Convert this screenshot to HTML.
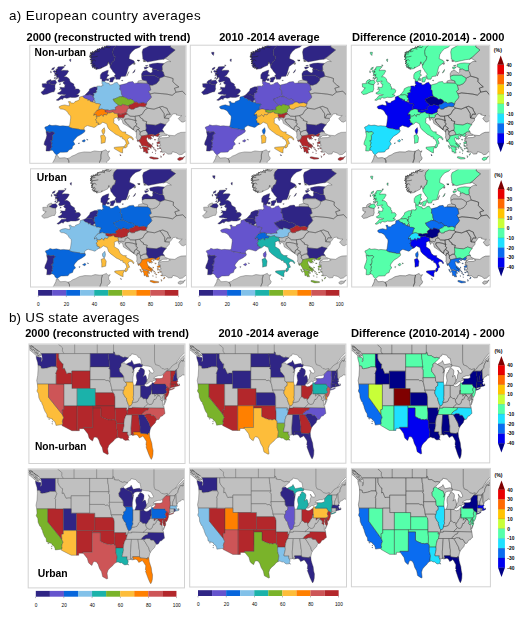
<!DOCTYPE html><html><head><meta charset="utf-8"><title>Figure</title><style>html,body{margin:0;padding:0;background:#fff}svg{display:block}text{font-family:"Liberation Sans",sans-serif;fill:#000}.b{font-weight:700}.m use,.m path{stroke:#404040;stroke-width:.36;stroke-linejoin:round}.m use.fj{stroke:#222;stroke-width:.5}.d use,.d path{stroke:#262626;stroke-width:.42}</style></head><body>
<svg width="520" height="619" viewBox="0 0 520 619">
<defs><path id="ePT" d="M15.8,86.3 17.9,85.6 18.2,86.6 21.1,86.2 23,86 24.3,87.4 22,89.7 22.2,92.4 21.7,94.8 20.1,95 21.7,97.1 20.8,99.8 21.7,100.6 20.1,103.2 20.5,104.5 18.9,105.3 15.7,105.2 16,101.8 16,99.8 14.7,99.6 13.7,98.5 14.2,96.1 15.7,92.8 16.5,89.7Z"/><path id="eES" d="M15.8,86.3 15.7,84.2 14.4,82.3 14.7,81.3 17.6,80.3 18.9,79 21.7,79.8 25.6,79.4 29.7,80.3 32.6,80 34.8,80.2 38.3,80.5 39.6,81.7 41.9,82.5 46.3,83.1 48.7,83.5 49.7,84 54.2,84.1 54.7,84.6 54.3,86.2 51.1,88.5 47,90.7 44.1,94 43,95.7 44.7,98.5 42.5,100.2 41.7,103 38.7,104.1 37.1,106.3 32.9,106.5 30,106.5 27,108.6 26.2,109.2 24,107.2 23.6,106.1 22,104.5 20.5,104.5 20.1,103.2 21.7,100.6 20.8,99.8 21.7,97.1 20.1,95 21.7,94.8 22.2,92.4 22,89.7 24.3,87.4 23,86 21.1,86.2 18.2,86.6 17.9,85.6ZM51.6,95.2 54,93.8 55.1,94.8 54,96.3 52.7,95.9ZM56.2,93.4 57.8,94 57.2,94.4ZM47.9,97.5 49.2,97.1 48.7,98.1Z"/><path id="eFR" d="M38.3,80.5 39.3,79.8 39.9,76 40.4,72.2 40.3,70.2 38.3,68.2 37.2,66.3 36.1,65.1 35.2,64.4 32.9,63.4 30.2,63.2 28.9,62 28.9,60.8 31.3,59.7 34.5,59.1 37.7,59.9 39.1,59.9 39,57.7 38,55.8 40.1,55.8 40.6,57.1 43.5,57.3 44.4,56.5 44.7,55.8 47.6,54.8 49.1,53.8 49.2,51.3 52.2,50.4 53.4,51.9 54.6,52.6 57.4,53.5 57.4,54.7 59.4,54 59.6,55.4 62.6,56.4 64.4,56.7 65.7,57.8 67.7,57.8 70.3,58.6 69,60.5 68.4,62.4 68.4,64 66.5,64.4 66.1,65.1 63.6,68.1 63.7,69.6 63.2,69.4 65.8,68.5 66,70.8 66.8,72.3 65.3,73.7 66.5,75.5 66.1,76.6 68.7,77.4 68.2,78.9 67.4,79.2 66.1,80.1 65.2,81.1 63.6,81.7 61.2,80.9 59.4,80.5 57.2,79.8 55.3,80.7 53.8,81.9 53.8,83.7 54.2,84.1 49.7,84 48.7,83.5 46.3,83.1 41.9,82.5 39.6,81.7Z"/><path id="eFRC" d="M71.6,84.2 74,81.9 74.6,85 74.1,87.4 73.5,88.3 72.2,87.6 71.6,85.8Z"/><path id="eBE" d="M52.2,50.4 54.9,49.3 57.7,49.3 59.8,48.9 62.8,50.1 62.3,51.5 63.4,51.8 64.4,53.2 63.7,54 62.5,55.4 62.6,56.4 59.6,55.4 59.4,54 57.4,54.7 57.4,53.5 54.6,52.6 53.4,51.9Z"/><path id="eLU" d="M62.5,55.4 63.7,54 64.9,55.4 64.4,56.7 62.6,56.4Z"/><path id="eNL" d="M54.9,49.3 55.9,48 57.2,46.8 58.8,44.9 59.3,43.1 61.4,42.1 63.9,41.1 66.1,41.1 67.1,41.9 66.6,44.3 65.5,44.9 66.6,45.8 65.8,47 63.1,47.5 63.9,49.1 63.1,50.5 63.4,51.8 62.3,51.5 62.8,50.1 59.8,48.9 57.7,49.3Z"/><path id="eDE" d="M67.1,41.9 66.5,40.4 69.7,40.2 71.3,40.8 71.6,39.4 72.9,39.4 71.7,37.8 71.6,35.5 74.3,35.8 76.1,37 78.9,37.5 79.2,39 80.8,39 82.8,38.4 84,37.2 86.9,36.5 88.2,38.6 89.6,39.3 89.8,41.7 89.3,43.5 90.9,44.7 91.2,48.4 92,49.5 91.5,51.2 89.8,50.7 87.2,51.9 84,53.2 82.8,53.4 84,55.8 85.6,57.3 88.3,59.4 87.1,60.3 84.8,61.8 85.6,64 83.1,64 79.2,64.7 77.5,64.2 74.8,64.2 72.9,63.6 71.4,63.2 68.4,64 68.4,62.4 69,60.5 70.3,58.6 67.7,57.8 65.7,57.8 64.4,56.7 64.9,55.4 63.7,54 64.4,53.2 63.4,51.8 63.1,50.5 63.9,49.1 63.1,47.5 65.8,47 66.6,45.8 65.5,44.9 66.6,44.3Z"/><path id="eDK" d="M71.7,35.5 71.6,33.3 70,33 70.1,29.1 71.6,26.9 75.9,25 78,24.4 77.7,26.5 77,28.5 78.9,29.4 77,30.6 75.7,34.1 74.3,35.8ZM75.4,33.1 78.3,33 78.6,34.7 76.4,34.9ZM79.2,32.4 81.8,31.4 84.4,31 84.4,32.8 83.1,34.3 82.4,36.3 79.2,36.3 79.9,34.3ZM91.1,34.7 92.5,34.5 92.3,35.1ZM20.8,6.6 23.3,6.6 22.7,9.8 21.1,8.2Z"/><path id="ePL" d="M89.6,39.3 95.9,37.8 98.4,36.3 102.6,35.8 103.9,37.6 106.7,37.2 107.4,37.3 117,37.6 119.2,39.2 120.5,44.1 118.2,45.6 119.7,48.2 121.1,51.3 119.8,53 116.5,56.4 116.2,58.2 112.8,56.9 108.3,57.7 106.4,56.4 104.3,56.5 103.4,55 100.7,53.4 98.1,53.8 95.9,52.3 92,50.7 91.5,51.2 92,49.5 91.2,48.4 90.9,44.7 89.3,43.5 89.8,41.7Z"/><path id="eCZ" d="M82.8,53.4 84,53.2 87.2,51.9 89.8,50.7 91.5,51.2 92,50.7 95.9,52.3 98.1,53.8 100.7,53.4 103.4,55 104.3,56.5 101.9,58.3 99.1,59.1 98.3,60.1 95.5,59.5 92,58.5 91.1,60.1 88.3,59.4 85.6,57.3 84,55.8Z"/><path id="eSK" d="M98.3,60.1 99.1,59.1 101.9,58.3 104.3,56.5 106.4,56.4 108.3,57.7 112.8,56.9 116.2,58.2 114.9,60.8 113.4,61 109.6,60.5 106.7,61.6 104.2,62.2 103.9,63.2 101,63.4 98.9,62.4Z"/><path id="eAT" d="M74.8,64.2 77.5,64.2 79.2,64.7 83.1,64 85.6,64 84.8,61.8 87.1,60.3 88.3,59.4 91.1,60.1 92,58.5 95.5,59.5 98.3,60.1 98.9,62.4 96.8,63.6 96.5,66.3 95.5,66.9 94.1,67.5 90.6,68.6 87.9,68.2 83.7,67.5 82.9,66.1 79.2,67.2 77.5,66.8 74.8,66.1Z"/><path id="eCH" d="M63.2,69.4 63.7,69.6 63.6,68.1 66.1,65.1 66.5,64.4 68.4,64 71.4,63.2 72.9,63.6 74.8,64.2 74.8,66.1 77.5,66.8 77.5,68.1 76.2,69.2 73.8,68.6 72.9,70.9 71.1,69 69.2,70.5 66.6,70.6 66,70.8 65.8,68.5Z"/><path id="eSI" d="M87.9,68.2 90.6,68.6 94.1,67.5 95.5,66.9 97,68.2 94.1,69.4 94.1,70.8 93,72.3 90.8,71.6 87.6,72.3 87.9,71.8 87.6,70.2 86.9,69Z"/><path id="eIT" d="M68.2,78.9 68.7,77.4 66.1,76.6 66.5,75.5 65.3,73.7 66.8,72.3 66,70.8 66.6,70.6 69.2,70.5 71.1,69 72.9,70.9 73.8,68.6 76.2,69.2 77.5,68.1 77.5,66.8 79.2,67.2 82.9,66.1 83.7,67.5 87.9,68.2 86.9,69 87.6,70.2 87.9,71.8 86,71.6 83.4,72.9 83.7,74.7 83.4,77.2 87.6,79.8 89.5,84 92.3,86.1 95.7,86.2 94.9,87.6 98.4,89.5 101.6,91.1 103.2,93.2 102.7,94.4 101.3,92.4 99.1,91.8 97.1,93.6 98.9,97.7 96.8,98.9 97,100.4 95.4,102.2 94.1,102.2 94.1,100.8 94.7,99.1 95.9,97.9 95.4,95.7 94.1,93.6 92,92.8 91.9,91.1 89.8,91.3 89.2,90.3 85.6,88.7 83.1,86.8 79.6,84.2 77.7,82.1 77,80 76.4,78 75.6,77.8 72.5,76.4 70,78.4ZM83.9,101.6 86.6,101.2 93.8,100.8 92.3,103.9 92.3,107.2 90.1,106.5 83.9,102.8ZM70.3,89.9 73.5,88.7 75.4,91.7 74.8,96.7 73,97.1 70.9,97.7 70.9,94Z"/><path id="eGB" d="M25.9,54.3 28.1,52.8 29.6,51.1 30.7,49.9 34.5,49.8 35.5,48.8 33.9,48.9 31.6,48.4 30.4,48.6 27.8,48.2 27.2,47.2 29.1,46.4 31,44.9 31,43.3 28.9,43.7 30.4,42.3 29.4,41.3 32,41.7 34.2,41.7 34.5,40 35,38.6 33.9,38.6 32.6,37 34.4,35.3 32.6,35.6 30,36.3 28.6,36.5 27.6,35.1 28.1,33.9 29.2,33.3 28.3,32.7 28.4,31.6 27.2,31.8 27.2,32.8 25.6,32.9 25.7,33.9 25.3,32.9 26.7,32.2 26.2,31.2 26.1,30.3 26.5,29.4 25.2,29.3 24.3,28.5 24.6,27.3 25.9,26.9 25.1,26 25.6,25 25.5,23.8 26.9,23.4 27.2,22.4 27.3,21.5 28.1,21 33.2,20.8 34.4,21 31.6,23.6 31,25 33.2,24.5 37.7,24.6 38.4,25.4 37.4,26.9 36.1,28.9 35.2,29.8 33.6,31.1 35.8,31 37.7,32 39,33.1 39.6,35.3 40.4,36.5 42.8,37.8 43.8,38.6 43.5,40.2 44.4,40.6 45.2,42.5 44.3,43.5 45.7,43.1 48.3,43.2 49.7,44.9 49.2,46.6 48.1,47.6 47,48.6 46,48.9 48.6,49.3 48.6,50.2 47.1,51.1 44.9,51.7 41.5,51.7 39.9,51.5 37.7,52.3 36.3,52.5 34.5,51.9 32.9,52.5 32.4,53.8 30.8,53.2 28.1,54.6 27.5,54.8ZM20.9,34.9 24.9,34.3 26.5,36.7 24.8,38.9 23,38.8 20.8,38.4 18.1,37.2 20,36.1ZM24.3,21.4 21.7,22.6 21.4,24.2 23.6,23.4ZM22.7,25.4 24.3,24.6 25.9,26.3 24,26.9ZM20.5,25 21.1,26.9 20.3,26.9ZM24,30 25.9,29.2 24.9,28.9ZM23.6,32.4 25.2,31.2 24.6,32.8ZM33.6,19.5 35.2,19.3 34.8,20.3ZM39.3,13.7 40.6,13.3 40.3,16 39.3,14.8ZM28.9,38.6 30,37.6 30.2,38.6Z"/><path id="eIE" d="M24.8,38.9 24.6,41.5 24.9,43.1 23.8,46 21.7,46.2 18.5,47.4 16.9,48.2 12.8,48.9 11.5,47.6 10.7,46.4 13.1,44.7 14.1,42.9 15.3,42.3 12.1,41.3 11.8,38 16.9,37.8 16,36.5 17.3,34.9 20.5,33.6 20.9,34.9 20,36.1 18.1,37.2 20.8,38.4 23,38.8Z"/><path id="eNO" d="M79.6,19.1 78,16 77,19.5 72.9,21.4 69.7,23 66.6,23.4 65.5,23.4 65.5,21.8 63.9,22.6 64,20.9 62.3,21.8 62,20.7 61.4,20 62.3,19 61.7,18.3 60.3,17.8 62,16.6 60.4,16.1 62.3,14.9 60.7,14.4 59.6,13.7 61.5,12.4 60.1,11.7 59.1,10.9 61.2,10.1 59.4,9.4 61.2,8.6 60.1,7.8 60.4,6.5 62.2,7.5 62.1,5.6 63.9,6.7 64.2,5.5 65,4.6 66.6,5.3 66.7,3.3 68.1,3.5 68.9,2.6 70.3,3.1 71.3,2.3 72,1.1 73.6,2.4 74.1,0.6 75.4,1.2 76,-0.3 77.7,-0 77.3,-1.3 79.8,-0.9 79.2,-2.3 88.5,-2.3 83.4,2.7 82.4,5.9 83.1,10.1 85,10.9 84,14.8 81.8,16.4 80.5,19.5Z"/><path id="eSE" d="M79.6,19.1 80.5,19.5 81.8,16.4 84,14.8 85,10.9 83.1,10.1 82.4,5.9 83.4,2.7 88.5,-2.3 112.8,-2.3 110.9,-0 109,1.6 104.8,3.1 101.6,5.9 99.4,9 98.7,12.9 103.2,14.8 104.5,16.4 101.9,18.3 98.4,20.7 97.5,23.8 96.5,27.3 95.2,30.4 90.8,30.8 89.5,33.5 85.6,33.5 85,31.2 84,30 85.3,28.5 82.4,25.4 82.1,24.6 79.9,21.8ZM102.3,27.3 104.8,23.8 104.2,26.1ZM96.5,30.4 98.7,25.9 97.5,28.1Z"/><path id="eFI" d="M122.4,-2.3 119.2,-0 116,1.6 112.8,3.1 111.8,6.2 112.2,9.4 112.5,12.1 112.5,13.3 114.4,14.4 117.3,16.2 123.7,15 128.8,14 132.9,13.5 136.8,10.9 140,8.2 144.8,4.3 140,1.2 140.6,-2.3ZM106.7,14.4 109,14.2 108.3,15.4Z"/><path id="eEE" d="M118.9,18.7 123,17.6 127.2,17.2 133.6,17.7 131.7,20.3 132,24 131.5,25.2 128.8,25.2 124.9,23.4 121.9,23.9 122.4,22.2 119.2,21.1ZM113.8,21.4 118.2,21.3 116,23 114.4,23.4ZM115,19.9 117.6,19.5 116.6,20.5Z"/><path id="eLV" d="M111.4,30.8 111.2,28.1 112.8,25.5 116.3,24.4 118.2,26.1 120.5,27.3 122.1,26.3 121.9,23.9 124.9,23.4 128.8,25.2 131.5,25.2 132.9,26.1 134.2,30.4 129.1,32.4 124,29.6 114.4,29.6Z"/><path id="eLT" d="M111.4,30.8 114.4,29.6 124,29.6 129.1,32.4 128.8,34.7 126.2,37.8 122.1,39.4 119.2,39.2 117,37.6 116.6,35.3 112.2,34.1 111.4,32.4Z"/><path id="eBG" d="M115.7,78 117.3,78.6 125.6,79.4 130.4,77.5 135.5,79 133.6,81.1 132,83.8 133.6,86 130.4,86 128.1,87.6 124.9,89.5 121.7,88.5 117.6,89.1 117.4,87.4 115.5,84.6 116,82.3 115.7,80.3Z"/><path id="eGR" d="M108,94.8 110.2,93.2 111.2,90.3 117.4,89.1 121.7,88.5 124.9,89.5 128.1,87.6 129.1,88.5 128.1,89.9 127.3,90.7 124,89.9 122.1,89.9 120.1,90.7 122.1,93 120.5,92.4 120.6,93.8 118.9,92.6 118.7,93.8 117.3,91.5 116.3,92.4 116.3,93.6 117.3,96.3 118.6,96.9 117.6,97.9 119.5,99.5 120.9,100.6 120.9,102.8 119.2,101.4 117.6,101.8 118.2,103.3 119.2,103.5 118.1,104.1 116.8,103.2 117.9,107.4 116,107.1 115.8,107.6 114.9,105.5 114.1,106.3 113.3,106.1 113.1,103.3 111.7,102 112.5,100.6 117.3,101.6 117.3,101 113.8,100 111.5,100.2 110.4,97.7 108.6,95.2ZM117.6,97.7 118.9,97.5 121.4,99.1 122.5,101.4 121.1,100.6 119.2,99.3ZM119.4,111.1 121.1,111 124.3,111.7 126.4,111.9 128.1,112.3 127.8,113.1 123.2,113.4 119.4,112.1ZM132.8,108.6 134.2,107.6 133.9,108.8 132.9,109.6ZM126.4,96.8 129.2,95.7 129.4,97.7 126.8,98ZM126.5,99 127.9,99.3 127.2,101ZM128.8,102.3 130.7,102.3 129.7,102.9ZM130,105.6 131.6,105.9 130.3,106.4ZM124.9,104.6 126.1,104.9 125.4,105.7ZM122.9,101.4 124,102 123.3,102.8ZM123.9,93.7 125.5,93.7 124.8,94.6ZM122.2,90.6 123.6,90.8 122.9,91.4ZM106.6,94.1 108,94.7 107.8,96.3ZM109,99.8 110.7,100.6 109.7,101.5ZM109.9,101.8 111.3,102.4 110.6,102.9ZM130.4,109.9 131.1,110.7 130.7,111.9ZM121.8,106.2 122.7,106.5 122,106.8ZM125,107.4 125.7,107.6 125.2,107.9ZM127,102.6 128.6,102.9 127.4,103.5ZM122.1,97.5 123,98.1 122.3,98.7ZM124.4,103 125.1,103.6 124.6,103.9ZM123.6,103.7 124.1,103.5 123.8,104Z"/><path id="eCY" d="M147.3,112.9 149.4,111.5 152.4,111.7 154.7,110.4 152.6,112.9 152.9,113.2 149.5,114.8 147.6,114.1Z"/><path id="eMT" d="M89.5,108.8 90.8,109.4 90.3,110.2Z"/><path id="eGRAY" d="M132.9,13.5 135.5,12.9 139,14.8 140.6,15.8 136.8,15.8 133.6,17.7 131.7,20.3 132,24 131.5,25.2 132.9,26.1 134.2,30.4 140,31.8 142.8,32.8 142.5,35.9 145.7,39 148.6,41.1 144.1,42.5 145.7,46.4 152.1,45.4 157.2,50.7 157.5,53 162.3,53 162.3,-2.3 140.6,-2.3 140,1.2 144.8,4.3 140,8.2 136.8,10.9ZM107.4,37.3 107.7,35.3 112.2,34.1 116.6,35.3 117,37.6ZM119.2,39.2 122.1,39.4 126.2,37.8 128.8,34.7 129.1,32.4 134.2,30.4 140,31.8 142.8,32.8 142.5,35.9 145.7,39 148.6,41.1 144.1,42.5 145.7,46.4 141.9,49.5 136.8,48.4 131,47.8 124,47.2 119.7,48.2 118.2,45.6 120.5,44.1ZM119.7,48.2 124,47.2 131,47.8 136.8,48.4 141.9,49.5 145.7,46.4 152.1,45.4 157.2,50.7 157.5,53 162.3,53 162.3,67.5 158.8,67.7 156.6,69 155.3,70.2 156.3,71.8 159.1,72.7 157.2,74.1 152.7,76.4 150.8,75.9 148,72.7 151.5,69.8 148.9,69.8 145.7,69 146.4,68.2 144.8,67.9 142.4,68.2 140.6,70.8 138.8,72.7 134.2,72.3 136.6,68.4 140,68.6 137.4,64.5 136.8,62.6 134.2,61.6 132,60.6 129.1,61.4 123.7,63.4 117.3,62.4 114.9,60.8 116.2,58.2 116.5,56.4 119.8,53 121.1,51.3ZM129.1,61.4 132,60.6 134.2,61.6 136.8,62.6 137.4,64.5 140,68.6 136.6,68.4 134.2,72.3 133.9,70.2 133.9,67.9 131.3,64ZM108.8,69.8 111.8,68.6 114.4,64.4 117.3,62.4 123.7,63.4 129.1,61.4 131.3,64 133.9,67.9 133.9,70.2 134.2,72.3 138.8,72.7 138.7,74.7 135.6,78 135.5,79 130.4,77.5 125.6,79.4 117.3,78.6 115.7,78 116.5,75.9 112.5,74.7 112.8,73.5 110.4,72.2ZM95.5,66.9 96.5,66.3 96.8,63.6 98.9,62.4 101,63.4 103.9,63.2 104.2,62.2 106.7,61.6 109.6,60.5 113.4,61 114.9,60.8 117.3,62.4 114.4,64.4 111.8,68.6 108.8,69.8 104.8,70.4 104.2,70.6 99.7,70.4 97,68.2ZM87.6,72.3 90.8,71.6 93,72.3 94.1,70.8 94.1,69.4 97,68.2 99.7,70.4 104.2,70.6 104.8,70.4 105.1,74.1 104.8,74.7 101.6,73.7 98.1,73.1 94.6,73.3 94.4,74.9 95.9,77.2 99.1,80 100.5,81.9 103.1,83.7 103.2,84.2 100.3,82.3 96.8,80 92.7,77.6 91.7,73.9 89.8,72.9 88.5,74.9 87.2,72.3ZM94.6,73.3 98.1,73.1 101.6,73.7 104.8,74.7 105.9,74.5 105.1,76.8 106.7,78 105.5,80 103.9,80.9 103.1,83.7 100.5,81.9 99.1,80 95.9,77.2 94.4,74.9ZM104.8,70.4 108.8,69.8 110.4,72.2 112.8,73.5 112.5,74.7 116.5,75.9 115.7,78 115.7,80.3 116,82.3 115.5,84.6 113.1,84.8 109.9,86.4 108.2,83.7 109.1,82.5 105.5,80 106.7,78 105.1,76.8 105.9,74.5 104.8,74.7 105.1,74.1ZM103.1,83.7 103.9,80.9 105.5,80 109.1,82.5 108.2,83.7 106.7,83.7 105.9,86.3 103.2,84.2ZM105.9,86.3 106.7,83.7 108.2,83.7 109.9,86.4 109.6,88.5 111.2,90.3 110.2,93.2 108,94.8 105.8,92 106.2,89.7ZM109.9,86.4 113.1,84.8 115.5,84.6 117.4,87.4 117.4,89.1 111.2,90.3 109.6,88.5ZM127.3,90.7 128.1,89.9 129.1,88.5 128.1,87.6 130.4,86 133.6,86 134.2,87.8 137.1,88.8 136.6,89.7 132,89.8 129.4,91.8 127.8,93.4 127.8,92.4 129.7,91.1ZM127.8,93.8 131.3,92 136.8,91.8 139.6,90.7 137.4,89.3 144.1,89.9 147.3,87.8 150.5,86.6 155.9,86.4 157.5,87.8 162.3,89.3 162.3,106.9 157.5,106.9 154.7,106.1 151.8,108.6 148.9,109 146.4,107.1 142.2,105.9 141.2,108.2 137.7,108.4 134.8,106.3 131.7,106.5 131.3,105.3 131,103 128.1,100.4 129.7,99.5 130.4,99.6 129.4,97.5 129.7,95.4 127.5,95.5ZM22.4,117 24.9,112.3 25.2,110 27.2,109.6 29.1,112.3 34.5,111.9 37.1,112.7 38.5,115 38.7,120.9 22.4,120.9ZM37.1,112.7 39.6,111.9 41.5,110.4 44.6,109.2 48.3,107.2 53.8,106.1 60.4,106.3 64.2,105.1 69,105.7 71.6,105.5 70.6,109.2 70.6,113.1 69.3,116.2 68.4,120.9 38.7,120.9 38.5,115ZM71.6,105.5 75.6,103.9 77.2,105.9 79.4,105.1 77.7,107.6 78,110 79.6,112.3 78.6,114.3 76.4,115.8 76.4,120.9 68.4,120.9 69.3,116.2 70.6,113.1 70.6,109.2Z"/><path id="eFJ" d="M60.4,11.3 64.2,11.1 67.4,10.5M61,14.8 63.9,14 65.5,15.2M62,18.7 64.2,17.9M60.7,8.6 64.5,8.2M63.9,6.2 67.7,5.9 69.7,5.1M70.9,2.7 74.1,3.5M75.7,1.6 79.2,1.9 80.5,0.4M63,19.9 65.2,19.5M66.5,22.8 67.1,21.4M70.6,22.6 71.3,21.1M77.8,18.3 78,16.4M102.6,17.9 104.8,17.2 103.5,18.7 105.1,18.1M107,14.6 109.3,14.8 108,15.2M112.5,14.4 114.7,15 113.1,15.6 115.7,15.8M27.5,30.4 26.2,29.2 27.8,28.5M26.8,26.1 25.2,25.4M27.5,23.8 26.2,23M66.6,23.4 65.5,23.4 65.5,21.8 63.9,22.6 64,20.9 62.3,21.8 62,20.7 61.4,20 62.3,19 61.7,18.3 60.3,17.8 62,16.6 60.4,16.1 62.3,14.9 60.7,14.4 59.6,13.7 61.5,12.4 60.1,11.7 59.1,10.9 61.2,10.1 59.4,9.4 61.2,8.6 60.1,7.8 60.4,6.5 62.2,7.5 62.1,5.6 63.9,6.7 64.2,5.5 65,4.6 66.6,5.3 66.7,3.3 68.1,3.5 68.9,2.6 70.3,3.1 71.3,2.3 72,1.1 73.6,2.4 74.1,0.6 75.4,1.2 76,-0.3 77.7,-0 77.3,-1.3 79.8,-0.9"/><path id="uWA" d="M6.7,11.8 7,14 8.3,18.3 8.6,21.2 10.1,21.4 11.5,21.8 11.8,23.8 13.3,24.2 15.9,23.8 17.7,23.6 20.9,22.6 21.7,22.3 27.1,22.3 26.8,20.4 26.8,9.2 11.8,9.2 12.5,11.1 12.8,13.1 12.9,15.7 12.2,17 11.7,17 12.2,15.3 12.2,13.5 11.6,12.9 9.9,12.9Z"/><path id="uOR" d="M8.6,21.2 10.1,21.4 11.5,21.8 11.8,23.8 13.3,24.2 15.9,23.8 17.7,23.6 20.9,22.6 21.7,22.3 27.1,22.3 27.1,22.3 28.2,24.4 27.4,26.6 26.4,29.2 26.9,30.1 26.8,31.9 26.8,39.7 8,39.7 7.3,36.2 8.3,31 8.7,24.4Z"/><path id="uCA" d="M8,39.7 19.1,39.7 19.1,52.8 33.1,70.3 34.4,73.3 33.5,75.1 33,77.2 33.5,79 32.9,80.2 26.6,81 26.3,79.4 25.4,77.2 23.3,75.7 23,74.5 21.2,74 17.8,72.7 17.4,69.6 15.7,67.2 14.1,63.3 13.8,61.7 12.5,59.3 12.5,58 11.2,57.2 9.4,53.2 9.1,49.3 7.5,46.7 8.3,44.1ZM19.1,74.4 20.2,74.4 19.8,75.1ZM22.7,77 23.5,77.5 23,77.7ZM22.7,79 23.3,79.6 22.9,79.9Z"/><path id="uNV" d="M19.1,39.7 34.7,39.7 34.7,65 32.8,65.5 33.2,69.8 33.1,70.3 19.1,52.8Z"/><path id="uID" d="M26.8,9.2 29.4,9.2 29.4,13.5 30.3,15.9 33,19.2 33.9,19.4 33.5,24.2 34.9,23.6 36.2,26.4 37.4,29 39.2,28.6 41.3,28.6 42.5,28.8 42.5,39.7 26.8,39.7 26.8,31.9 26.9,30.1 26.4,29.2 27.4,26.6 28.2,24.4 27.1,22.3 26.8,20.4Z"/><path id="uMT" d="M29.4,9.2 60.9,9.2 60.9,26.6 42.5,26.6 42.5,28.8 41.3,28.6 39.2,28.6 37.4,29 36.2,26.4 34.9,23.6 33.5,24.2 33.9,19.4 33,19.2 30.3,15.9 29.4,13.5Z"/><path id="uWY" d="M42.5,26.6 60.9,26.6 60.9,44.1 42.5,44.1Z"/><path id="uUT" d="M34.7,39.7 42.5,39.7 42.5,44.1 47.8,44.1 47.8,61.5 34.7,61.5Z"/><path id="uCO" d="M47.8,44.1 66.1,44.1 66.1,61.5 47.8,61.5Z"/><path id="uAZ" d="M34.7,61.5 47.8,61.5 47.8,86.3 42.5,86.3 32.6,81.2 32.9,80.2 33.5,79 33,77.2 33.5,75.1 34.4,73.3 33.1,70.3 33.2,69.8 32.8,65.5 34.7,65Z"/><path id="uNM" d="M47.8,61.5 63.6,61.5 63.5,83.3 54.1,83.3 54.4,84.3 50,84.3 50,86.3 47.8,86.3Z"/><path id="uND" d="M60.9,9.2 78.8,9.2 79.1,13.5 79.7,15.7 79.9,19.6 80.5,22.5 60.9,22.5Z"/><path id="uSD" d="M60.9,22.5 80.5,22.5 79.7,24 80.8,25.3 80.8,33.2 80.4,33.2 80.8,35.3 80.7,37.5 80.1,37.1 78.6,36 76.7,36.3 75.4,35.3 60.9,35.3Z"/><path id="uNE" d="M60.9,35.3 75.4,35.3 76.7,36.3 78.6,36 80.1,37.1 80.7,37.5 81.7,41 82.2,43.2 82.5,45.8 83.8,48.4 66.1,48.4 66.1,44.1 60.9,44.1Z"/><path id="uKS" d="M66.1,48.4 83.8,48.4 84.9,49.3 85.6,52.4 85.6,61.5 66.1,61.5Z"/><path id="uOK" d="M63.6,61.5 85.6,61.5 85.6,63.7 86.1,68.5 86,76.2 84.6,75.1 82,75.7 80.4,75.3 78.8,75.5 77.5,74.8 75.4,74.2 73.6,73.3 71.5,72.2 71.5,63.7 63.6,63.7Z"/><path id="uTX" d="M63.5,83.3 63.6,63.7 71.5,63.7 71.5,72.2 73.6,73.3 75.4,74.2 77.5,74.8 78.8,75.5 80.4,75.3 82,75.7 84.6,75.1 86,76.2 87.1,76.6 87.1,79 87.1,83.4 87.7,85.5 88.4,87.7 88,90.8 87.6,93.4 85.4,94.9 84.1,96.7 81.2,99.1 79.4,101.2 78.3,104.3 79,109.7 78,110.1 76.2,109.1 73.9,107.8 72.8,103 70.7,99.5 69.4,95.6 67.8,93.1 65.5,92.6 64.4,93.4 63.2,96.6 61,95.1 59.7,93.6 58.6,89.5 55.8,86 54.4,84.3 54.1,83.3Z"/><path id="uMN" d="M78.8,9.2 84.2,9.2 84.2,7.5 85.1,7.9 85.6,10.5 87.7,10.9 89.8,10.9 91.7,12.2 94,13.2 95.6,12.7 99,13.5 95.6,16.6 93,18.3 92.2,19 91.7,19.4 91.7,21.8 90.1,24 90.5,27.1 92.5,29.2 94.3,31.6 94.5,33.2 80.8,33.2 80.8,25.3 79.7,24 80.5,22.5 79.9,19.6 79.7,15.7 79.1,13.5Z"/><path id="uIA" d="M80.8,33.2 94.5,33.2 94.8,36.7 96,37.5 97.3,39.3 96.9,41.5 94.8,42.8 95.1,44.5 94,46.7 93.2,45.8 82.5,45.8 82.2,43.2 81.7,41 80.7,37.5 80.8,35.3 80.4,33.2Z"/><path id="uMO" d="M82.5,45.8 93.2,45.8 94,46.7 93.8,48.9 95.9,52.8 97.2,53.7 97.2,55.4 99,60.2 99.9,61.5 99.3,63.7 98.5,65.9 96.7,65.9 97.3,63.7 85.6,63.7 85.6,61.5 85.6,52.4 84.9,49.3 83.8,48.4Z"/><path id="uAR" d="M85.6,63.7 97.3,63.7 96.7,65.9 98.5,65.9 97.4,70.3 96.1,72 95.1,75.1 94.6,79 87.1,79 87.1,76.6 86,76.2 86.1,68.5Z"/><path id="uLA" d="M87.1,79 94.6,79 94.8,81.2 93.5,86.8 93.5,87.7 98.4,87.7 98.1,89.2 98.8,91.2 99.3,91.9 99.5,93.2 98.8,94.3 99.9,96.2 99,95.6 97.4,95.8 96.1,96 94.3,95.1 93,93.8 91.7,94 89.3,93 87.6,93.4 88,90.8 88.4,87.7 87.7,85.5 87.1,83.4Z"/><path id="uMS" d="M94.6,79 95.1,75.1 96.1,72 97.4,70.3 102.4,70.3 102.7,70.7 101.7,83.8 101.9,90.5 98.8,91.2 98.1,89.2 98.4,87.7 93.5,87.7 93.5,86.8 94.8,81.2Z"/><path id="uAL" d="M102.4,70.3 109.2,70.3 110.3,79.5 110.8,82 110.7,85.3 110.8,87.7 104,87.7 104,88.4 104.5,89.5 104.3,90.8 103,91.1 102.7,89.5 102.4,90.5 101.9,90.5 101.7,83.8 102.7,70.7Z"/><path id="uGA" d="M109.2,70.3 115.8,70.3 115.1,71.6 116.3,72.7 118.2,76.1 118.9,77.2 120,79 120.9,82.5 121.7,83.2 121,84.7 120.5,86.8 120.1,88.9 118.7,88.8 118.5,90.5 118.2,89.6 111.2,89 110.8,87.7 110.7,85.3 110.8,82 110.3,79.5Z"/><path id="uFL" d="M104,87.7 110.8,87.7 111.2,89 118.2,89.6 118.5,90.5 118.7,88.8 120.1,88.9 120.5,92.5 121.6,96.2 122.5,98.8 123,103 123.8,106 123.6,110.4 123,113 122,115 121,113.4 119.5,110 118.2,106.5 116.7,102.5 117.4,101.5 116.6,100.8 117,96.9 115,93.6 113.4,91.6 112.5,92.3 110,93.5 108.5,91 106.9,90.3 104.3,90.8 104.5,89.5 104,88.4Z"/><path id="uSC" d="M115.8,70.3 117.6,69.4 121.2,69.6 121.2,70 121.5,69.8 121.9,71 124.8,71.1 127.7,75.2 126.5,76.6 126,78.3 124.1,80.3 122.7,81.8 121.7,83.2 120.9,82.5 120,79 118.9,77.2 118.2,76.1 116.3,72.7 115.1,71.6Z"/><path id="uNC" d="M112.6,70.3 112.7,69.4 114.2,67.8 116.2,66.3 117.1,65.8 118.5,65.5 119.5,63.3 134.8,63.5 135.1,65 135.7,69.2 134.4,70 133.1,71.6 131.3,72 129.4,75.1 127.7,75.2 124.8,71.1 121.9,71 121.5,69.8 121.2,70 121.2,69.6 117.6,69.4 115.8,70.3Z"/><path id="uTN" d="M97.4,70.3 98.5,65.9 99.3,63.7 102.8,63.7 102.8,62.9 114.3,63.3 119.5,63.3 118.5,65.5 117.1,65.8 116.2,66.3 114.2,67.8 112.7,69.4 112.6,70.3Z"/><path id="uKY" d="M99.3,63.7 99.9,61.5 101.6,61.1 102.7,59.3 103,58 103,58 105.3,58 106.6,57.6 108.2,57.2 109,55.9 109.8,54 111.3,52.4 111.3,52.4 112.1,52.4 114.2,54.3 116.1,54 117.1,55.4 117.1,56.4 117.9,58.6 118.8,59.2 115.8,62.2 114.3,63.3 102.8,62.9 102.8,63.7Z"/><path id="uIL" d="M93.8,47.6 94,46.7 95.1,44.5 94.8,42.8 96.9,41.5 97.3,39.3 96,37.5 103.5,37.5 104.2,40.8 104.2,51.3 103.9,52.8 104.3,55 103,57.6 103,58 102.7,59.3 101.6,61.1 99.9,61.5 99,60.2 97.2,55.4 97.2,53.7 95.9,52.8 93.8,48.9Z"/><path id="uIN" d="M104.2,40.8 105,40.8 111.3,40.8 111.3,52.4 109.8,54 109,55.9 108.2,57.2 106.6,57.6 105.3,58 103,58 103,57.6 104.3,55 103.9,52.8 104.2,51.3Z"/><path id="uOH" d="M111.3,41 114.9,40.9 116.1,41.9 117.4,42.3 119.5,41.9 121.3,40.4 122.6,39.8 122.6,45.6 122.2,46.7 121.7,49.7 120,51.3 119.3,52.8 118.2,54.5 117.1,55.4 116.1,54 114.2,54.3 112.1,52.4 111.3,52.4Z"/><path id="uMI" d="M106.1,40.8 111.3,40.8 111.3,41 114.9,40.9 115.7,39.5 117.4,37.1 117.5,35.3 117.1,32.7 116.3,30.8 115,31.4 113.6,32.5 115,29.7 115.3,26.6 114.7,25.1 112.7,23.8 111.5,23.2 110.7,23.8 110.8,24.9 109.4,25.7 109.4,27.5 107.9,27.9 106.9,30.8 107,32.7 107.7,36.2 106.6,39.7ZM96.6,19.8 100.1,21.6 102.7,22.6 103.5,25.1 104,26.2 105.4,23.6 106.8,22.9 108.5,22.5 111.6,22.5 112.9,22.3 113.2,20.1 111.9,20.3 110.8,19 108.2,19.4 104.5,20.1 103.7,18.5 102.4,15.9 101.6,17.5 99,18.6Z"/><path id="uWI" d="M91.7,19.4 92.2,19 95.1,18.3 95.7,19.4 96.6,19.8 100.1,21.6 102.7,22.6 103.5,25.1 104,26.2 103,28.6 104.7,25.7 104.3,29.2 103.6,33.2 103.5,37.5 96,37.5 94.8,36.7 94.5,33.2 94.3,31.6 92.5,29.2 90.5,27.1 90.1,24 91.7,21.8Z"/><path id="uPA" d="M122.6,39.8 122.6,38.3 124.6,38.5 124.6,39.7 136.1,39.7 136.9,41.5 137.8,42.5 136.8,44.5 136.5,45.6 137.7,47.6 136.8,48.9 135.5,49.2 135,49.7 122.6,49.7Z"/><path id="uNY" d="M124.6,38.5 126.5,36.7 126.8,35.6 126.4,34.2 130.5,34.2 132.3,33.9 133.9,32.9 133.6,30.5 134.9,29 137.1,26.6 141.4,26.6 141.2,31 141.6,32.9 141.6,36.4 141,39.5 141,42.8 140.6,44.1 139.9,44.5 139.9,44.1 137.8,42.5 136.9,41.5 136.1,39.7 124.6,39.7ZM139.8,45.2 143.3,44.2 144.9,43.4 145.2,43.9 143.6,44.9 139.9,46Z"/><path id="uNJ" d="M137.8,42.5 139.9,44.1 139.7,46.3 139.7,48 138.6,51.1 137.2,53.1 136,51.1 135.6,50 136.8,48.9 137.7,47.6 136.5,45.6 136.8,44.5Z"/><path id="uDE" d="M135,49.7 135.5,49.2 136,51.1 136.8,53.7 136.9,55.2 135.2,55.2Z"/><path id="uMD" d="M125.3,49.7 135,49.7 135.2,55.2 136.9,55.2 136.5,57 135.3,57.4 134.7,56.3 133.6,53.2 134.4,50.8 133.4,51.7 133.1,54.1 133.5,56.7 131.8,55.9 131,55 131.7,53.7 130.5,51.9 129.8,51.4 128.6,50 127.2,50.2 125.3,51.9Z"/><path id="uVA" d="M114.3,63.3 119.5,63.3 134.8,63.5 134.4,61.5 133.6,61.5 133.6,58.9 133.5,57.2 131.8,55.9 131,55 131.7,53.7 130.5,51.9 129.8,51.4 128.2,51.1 126.9,53.7 125.8,55.2 124.8,54.8 123.1,58.9 122.6,59.6 120.5,60.2 118.8,59.2 115.8,62.2ZM135.3,57.4 136.1,57.6 134.7,60.9 134.4,60.2 134.9,58.5Z"/><path id="uWV" d="M117.1,55.4 118.2,54.5 119.3,52.8 120,51.3 121.7,49.7 122.2,46.7 122.6,45.6 122.6,49.7 125.3,49.7 125.3,51.9 127.2,50.2 128.6,50 129.8,51.4 128.2,51.1 126.9,53.7 125.8,55.2 124.8,54.8 123.1,58.9 122.6,59.6 120.5,60.2 118.8,59.2 117.9,58.6 117.1,56.4Z"/><path id="uCT" d="M141,39.5 145.4,39.6 145.4,42.3 145.3,42.7 142.5,43 140.6,44.1 141,42.8Z"/><path id="uRI" d="M145.4,39.6 146.5,39.6 147,41.9 145.3,42.7 145.4,42.3Z"/><path id="uMA" d="M141,39.5 141.6,36.4 146.7,36.7 148,35.9 148.6,36.9 147.5,38.4 148.3,39.7 148.8,40.6 150.1,40.6 150.1,39.5 149.5,39.4 150.3,41 148.6,41.7 147.5,41.9 147,41.9 146.5,39.6 145.4,39.6Z"/><path id="uVT" d="M141.4,26.6 146.2,26.6 145.9,28.8 144.8,31 144,33.2 143.7,36.5 141.6,36.4 141.6,32.9 141.2,31Z"/><path id="uNH" d="M146.2,26.6 146.5,25.5 147.3,25.3 147.5,29.7 147.6,33.6 148.3,35 148,35.9 146.7,36.7 143.7,36.5 144,33.2 144.8,31 145.9,28.8Z"/><path id="uME" d="M147.3,25.3 149.1,23.1 149.5,20.9 150.1,19.2 152.2,15.9 153,17 154.6,16.3 155.9,17.6 156,22.7 156.8,24 156.8,26 158.1,27.5 156.7,29.5 154.9,30.8 153.3,30.3 152.2,31.6 150.7,32.3 149.6,32.7 148.7,34.3 148.3,35 147.6,33.6 147.5,29.7Z"/><path id="uCAN" d="M-0.9,0.4 -0.9,-3.9 160.6,-3.9 160.6,5.2 158,6.5 154.9,8.7 150.9,12.9 148,17 147,18.5 147,19 149.4,17 151.3,14.4 154.1,11.6 156.7,9.8 160.6,8.3 160.6,25.5 158.1,27.5 156.8,26 156.8,24 156,22.7 155.9,17.6 154.6,16.3 153,17 152.2,15.9 150.1,19.2 149.5,20.9 149.1,23.1 147.3,25.3 146.5,25.5 146.2,26.6 137.1,26.6 134.9,29 133.6,30.1 131.8,31.2 129.2,31.2 125.5,32.5 124.4,34 126.4,34.2 126.8,35.6 124.4,36 122.9,37.3 121.3,36.9 119.2,38.6 117.4,39.7 115.8,39.5 116.3,38.2 117.5,37.1 117.6,35.3 119.3,34 119.5,30.5 120.5,28.4 119.6,25.5 121.6,28.4 123.7,28.8 124.7,27.5 123.9,25.7 122.1,22.7 119.5,21.8 116.1,21.4 113.2,20.9 112.1,20.1 111.9,17 111.1,13.7 109.2,13.1 107.1,10.4 105.3,10.1 102.3,9.4 101.6,11.1 99.8,11.8 98.8,13.5 95.6,12.7 94,13.2 91.7,12.2 89.8,10.9 87.7,10.9 85.6,10.5 85.1,7.9 84.2,7.5 84.2,9.2 10.9,9.2 10.7,7.9 8.8,7 6.5,5 5.2,3.5 2,1.7ZM-3,0.9 0.7,1.5 4.9,3.7 7,6.5 9.1,8.1 10.4,10.5 10.4,11.8 9.6,12.2 6.5,10.9 3.6,8.3 1.5,6.5 -1.7,4.4Z"/><path id="uCANH" d="M-0.3,1.5 2.3,3.5M1,3.9 3.6,6.1M3.3,4.4 5.4,6.5M4.9,7.4 7.3,9.4M6.5,7 8.6,9.6M-0.9,2.8 1,4.1M7.8,10.3 9.6,11.3M5.4,3.9 7.3,5.5 8.8,6.1 10.1,7.4M1.8,1.1 4.4,2.8M10.7,9.6 11.3,11.3 12,10.9"/><path id="uCANL" d="M34.6,9.2 33,6.5 33.2,3.5 31.4,1.7 29.5,0.4 28.2,-1.7M45.3,9.2 45.3,-3.9M67.9,9.2 67.9,-3.9M84.2,7.5 84.2,-3.9M125.2,-3.9 125.2,15.5 125.4,17.9 126.3,20.3 128.4,20.9 130.2,21.6 131.8,23.1 132.8,24.2 134.4,24.4 135.2,24.9 138.6,24.1 138.6,25.7M137.1,26.6 138.9,25.7 140.7,24.4 142.3,22 144.1,20.5 147,18.8M152.6,16.6 154.3,15.5 154.9,13.7 156.4,13.7 160.6,13.7"/>
<clipPath id="ce"><rect width="155.3" height="117.0"/></clipPath>
<clipPath id="cu"><rect width="155.2" height="118.6"/></clipPath>
</defs>
<rect width="520" height="619" fill="#fff"/>
<rect x="29.8" y="45.3" width="156.3" height="118.0" fill="#fff" stroke="#d2d2d2" stroke-width="1"/>
<g class="m" transform="translate(30.30,45.80) scale(1.0000,1.0000)"><g clip-path="url(#ce)">
<use href="#eGRAY" fill="#c0c0c0"/>
<use href="#eNO" fill="#2f2585"/>
<use href="#eSE" fill="#2f2585"/>
<use href="#eFI" fill="#2f2585"/>
<use href="#eEE" fill="#2f2585"/>
<use href="#eLV" fill="#2f2585"/>
<use href="#eLT" fill="#2f2585"/>
<use href="#eDK" fill="#2f2585"/>
<use href="#eGB" fill="#2f2585"/>
<use href="#eIE" fill="#2f2585"/>
<use href="#eNL" fill="#2f2585"/>
<use href="#eBE" fill="#6554cd"/>
<use href="#eLU" fill="#c0c0c0"/>
<use href="#eDE" fill="#82c1e9"/>
<use href="#ePL" fill="#6554cd"/>
<use href="#eCZ" fill="#7ab32a"/>
<use href="#eSK" fill="#b3272b"/>
<use href="#eAT" fill="#cd5557"/>
<use href="#eCH" fill="#ff8000"/>
<use href="#eSI" fill="#b3272b"/>
<use href="#eFR" fill="#fdbd3a"/>
<use href="#eFRC" fill="#fdbd3a"/>
<use href="#eIT" fill="#fdbd3a"/>
<use href="#eES" fill="#0766dc"/>
<use href="#ePT" fill="#2f2585"/>
<use href="#eBG" fill="#2f2585"/>
<use href="#eGR" fill="#b3272b"/>
<use href="#eCY" fill="#b3272b"/>
<use href="#eMT" fill="#b3272b"/>
<use href="#eFJ" fill="none" class="fj"/>
</g></g>
<rect x="190.3" y="45.2" width="156.2" height="118.1" fill="#fff" stroke="#d2d2d2" stroke-width="1"/>
<g class="m" transform="translate(190.80,45.70) scale(0.9994,1.0009)"><g clip-path="url(#ce)">
<use href="#eGRAY" fill="#c0c0c0"/>
<use href="#eNO" fill="#2f2585"/>
<use href="#eSE" fill="#2f2585"/>
<use href="#eFI" fill="#2f2585"/>
<use href="#eEE" fill="#2f2585"/>
<use href="#eLV" fill="#2f2585"/>
<use href="#eLT" fill="#2f2585"/>
<use href="#eDK" fill="#2f2585"/>
<use href="#eGB" fill="#2f2585"/>
<use href="#eIE" fill="#2f2585"/>
<use href="#eNL" fill="#2f2585"/>
<use href="#eBE" fill="#2f2585"/>
<use href="#eLU" fill="#c0c0c0"/>
<use href="#eDE" fill="#6554cd"/>
<use href="#ePL" fill="#6554cd"/>
<use href="#eCZ" fill="#6554cd"/>
<use href="#eSK" fill="#fdbd3a"/>
<use href="#eAT" fill="#7ab32a"/>
<use href="#eCH" fill="#fdbd3a"/>
<use href="#eSI" fill="#b3272b"/>
<use href="#eFR" fill="#0766dc"/>
<use href="#eFRC" fill="#0766dc"/>
<use href="#eIT" fill="#fdbd3a"/>
<use href="#eES" fill="#6554cd"/>
<use href="#ePT" fill="#2f2585"/>
<use href="#eBG" fill="#2f2585"/>
<use href="#eGR" fill="#b3272b"/>
<use href="#eCY" fill="#b3272b"/>
<use href="#eMT" fill="#2f2585"/>
<use href="#eFJ" fill="none" class="fj"/>
</g></g>
<rect x="351.3" y="45.2" width="138.4" height="118.0" fill="#fff" stroke="#d2d2d2" stroke-width="1"/>
<g class="m d" transform="translate(351.80,45.70) scale(0.8847,1.0000)"><g clip-path="url(#ce)">
<use href="#eGRAY" fill="#bfbfbf"/>
<use href="#eNO" fill="#55ffaa"/>
<use href="#eSE" fill="#55ffaa"/>
<use href="#eFI" fill="#55ffaa"/>
<use href="#eEE" fill="#55ffaa"/>
<use href="#eLV" fill="#bfbfbf"/>
<use href="#eLT" fill="#55ffaa"/>
<use href="#eDK" fill="#55ffaa"/>
<use href="#eGB" fill="#55ffaa"/>
<use href="#eIE" fill="#55ffaa"/>
<use href="#eNL" fill="#55ffaa"/>
<use href="#eBE" fill="#55ffaa"/>
<use href="#eLU" fill="#bfbfbf"/>
<use href="#eDE" fill="#0000f0"/>
<use href="#ePL" fill="#55ffaa"/>
<use href="#eCZ" fill="#000086"/>
<use href="#eSK" fill="#0a6cf0"/>
<use href="#eAT" fill="#0000f0"/>
<use href="#eCH" fill="#55ffaa"/>
<use href="#eSI" fill="#55ffaa"/>
<use href="#eFR" fill="#0000f0"/>
<use href="#eFRC" fill="#0000f0"/>
<use href="#eIT" fill="#55ffaa"/>
<use href="#eES" fill="#1fe0ff"/>
<use href="#ePT" fill="#55ffaa"/>
<use href="#eBG" fill="#55ffaa"/>
<use href="#eGR" fill="#55ffaa"/>
<use href="#eCY" fill="#55ffaa"/>
<use href="#eMT" fill="#000086"/>
<use href="#eFJ" fill="none" class="fj"/>
</g></g>
<rect x="30.5" y="168.8" width="156.0" height="118.2" fill="#fff" stroke="#d2d2d2" stroke-width="1"/>
<g class="m" transform="translate(31.00,169.30) scale(0.9981,1.0017)"><g clip-path="url(#ce)">
<use href="#eGRAY" fill="#c0c0c0"/>
<use href="#eNO" fill="#c0c0c0"/>
<use href="#eSE" fill="#2f2585"/>
<use href="#eFI" fill="#2f2585"/>
<use href="#eEE" fill="#2f2585"/>
<use href="#eLV" fill="#2f2585"/>
<use href="#eLT" fill="#c0c0c0"/>
<use href="#eDK" fill="#2f2585"/>
<use href="#eGB" fill="#2f2585"/>
<use href="#eIE" fill="#c0c0c0"/>
<use href="#eNL" fill="#2f2585"/>
<use href="#eBE" fill="#2f2585"/>
<use href="#eLU" fill="#c0c0c0"/>
<use href="#eDE" fill="#0766dc"/>
<use href="#ePL" fill="#0766dc"/>
<use href="#eCZ" fill="#0766dc"/>
<use href="#eSK" fill="#b3272b"/>
<use href="#eAT" fill="#b3272b"/>
<use href="#eCH" fill="#82c1e9"/>
<use href="#eSI" fill="#c0c0c0"/>
<use href="#eFR" fill="#82c1e9"/>
<use href="#eFRC" fill="#82c1e9"/>
<use href="#eIT" fill="#fdbd3a"/>
<use href="#eES" fill="#0766dc"/>
<use href="#ePT" fill="#2f2585"/>
<use href="#eBG" fill="#2f2585"/>
<use href="#eGR" fill="#ff8000"/>
<use href="#eCY" fill="#c0c0c0"/>
<use href="#eMT" fill="#c0c0c0"/>
<use href="#eFJ" fill="none" class="fj"/>
</g></g>
<rect x="191.4" y="168.6" width="155.9" height="118.4" fill="#fff" stroke="#d2d2d2" stroke-width="1"/>
<g class="m" transform="translate(191.90,169.10) scale(0.9974,1.0034)"><g clip-path="url(#ce)">
<use href="#eGRAY" fill="#c0c0c0"/>
<use href="#eNO" fill="#c0c0c0"/>
<use href="#eSE" fill="#2f2585"/>
<use href="#eFI" fill="#2f2585"/>
<use href="#eEE" fill="#2f2585"/>
<use href="#eLV" fill="#2f2585"/>
<use href="#eLT" fill="#c0c0c0"/>
<use href="#eDK" fill="#2f2585"/>
<use href="#eGB" fill="#2f2585"/>
<use href="#eIE" fill="#c0c0c0"/>
<use href="#eNL" fill="#2f2585"/>
<use href="#eBE" fill="#2f2585"/>
<use href="#eLU" fill="#c0c0c0"/>
<use href="#eDE" fill="#6554cd"/>
<use href="#ePL" fill="#2f2585"/>
<use href="#eCZ" fill="#2f2585"/>
<use href="#eSK" fill="#b3272b"/>
<use href="#eAT" fill="#82c1e9"/>
<use href="#eCH" fill="#0766dc"/>
<use href="#eSI" fill="#c0c0c0"/>
<use href="#eFR" fill="#6554cd"/>
<use href="#eFRC" fill="#6554cd"/>
<use href="#eIT" fill="#1bb2aa"/>
<use href="#eES" fill="#6554cd"/>
<use href="#ePT" fill="#2f2585"/>
<use href="#eBG" fill="#2f2585"/>
<use href="#eGR" fill="#7ab32a"/>
<use href="#eCY" fill="#c0c0c0"/>
<use href="#eMT" fill="#c0c0c0"/>
<use href="#eFJ" fill="none" class="fj"/>
</g></g>
<rect x="351.7" y="169.1" width="138.5" height="117.9" fill="#fff" stroke="#d2d2d2" stroke-width="1"/>
<g class="m d" transform="translate(352.20,169.60) scale(0.8854,0.9991)"><g clip-path="url(#ce)">
<use href="#eGRAY" fill="#bfbfbf"/>
<use href="#eNO" fill="#bfbfbf"/>
<use href="#eSE" fill="#55ffaa"/>
<use href="#eFI" fill="#55ffaa"/>
<use href="#eEE" fill="#55ffaa"/>
<use href="#eLV" fill="#bfbfbf"/>
<use href="#eLT" fill="#bfbfbf"/>
<use href="#eDK" fill="#55ffaa"/>
<use href="#eGB" fill="#55ffaa"/>
<use href="#eIE" fill="#bfbfbf"/>
<use href="#eNL" fill="#55ffaa"/>
<use href="#eBE" fill="#55ffaa"/>
<use href="#eLU" fill="#bfbfbf"/>
<use href="#eDE" fill="#55ffaa"/>
<use href="#ePL" fill="#0a6cf0"/>
<use href="#eCZ" fill="#0a6cf0"/>
<use href="#eSK" fill="#55ffaa"/>
<use href="#eAT" fill="#000086"/>
<use href="#eCH" fill="#1fe0ff"/>
<use href="#eSI" fill="#bfbfbf"/>
<use href="#eFR" fill="#0a6cf0"/>
<use href="#eFRC" fill="#0a6cf0"/>
<use href="#eIT" fill="#0000f0"/>
<use href="#eES" fill="#55ffaa"/>
<use href="#ePT" fill="#55ffaa"/>
<use href="#eBG" fill="#55ffaa"/>
<use href="#eGR" fill="#0a6cf0"/>
<use href="#eCY" fill="#bfbfbf"/>
<use href="#eMT" fill="#bfbfbf"/>
<use href="#eFJ" fill="none" class="fj"/>
</g></g>
<rect x="28.9" y="343.9" width="156.1" height="119.6" fill="#fff" stroke="#d2d2d2" stroke-width="1"/>
<g class="m" transform="translate(29.40,344.40) scale(0.9994,1.0000)"><g clip-path="url(#cu)">
<use href="#uCAN" fill="#c0c0c0"/>
<use href="#uCANL" fill="none"/>
<use href="#uCANH" fill="none" class="fj"/>
<use href="#uWA" fill="#2f2585"/>
<use href="#uOR" fill="#c0c0c0"/>
<use href="#uCA" fill="#fdbd3a"/>
<use href="#uNV" fill="#cd5557"/>
<use href="#uID" fill="#b3272b"/>
<use href="#uMT" fill="#c0c0c0"/>
<use href="#uWY" fill="#b3272b"/>
<use href="#uUT" fill="#c0c0c0"/>
<use href="#uCO" fill="#1bb2aa"/>
<use href="#uAZ" fill="#b3272b"/>
<use href="#uNM" fill="#b3272b"/>
<use href="#uND" fill="#2f2585"/>
<use href="#uSD" fill="#c0c0c0"/>
<use href="#uNE" fill="#c0c0c0"/>
<use href="#uKS" fill="#b3272b"/>
<use href="#uOK" fill="#b3272b"/>
<use href="#uTX" fill="#b3272b"/>
<use href="#uMN" fill="#2f2585"/>
<use href="#uIA" fill="#c0c0c0"/>
<use href="#uMO" fill="#c0c0c0"/>
<use href="#uAR" fill="#b3272b"/>
<use href="#uLA" fill="#b3272b"/>
<use href="#uMS" fill="#c0c0c0"/>
<use href="#uAL" fill="#b3272b"/>
<use href="#uGA" fill="#2f2585"/>
<use href="#uFL" fill="#ff8000"/>
<use href="#uSC" fill="#b3272b"/>
<use href="#uNC" fill="#cd5557"/>
<use href="#uTN" fill="#b3272b"/>
<use href="#uKY" fill="#c0c0c0"/>
<use href="#uIL" fill="#fdbd3a"/>
<use href="#uIN" fill="#c0c0c0"/>
<use href="#uOH" fill="#2f2585"/>
<use href="#uMI" fill="#2f2585"/>
<use href="#uWI" fill="#c0c0c0"/>
<use href="#uPA" fill="#2f2585"/>
<use href="#uNY" fill="#cd5557"/>
<use href="#uNJ" fill="#b3272b"/>
<use href="#uDE" fill="#b3272b"/>
<use href="#uMD" fill="#c0c0c0"/>
<use href="#uVA" fill="#c0c0c0"/>
<use href="#uWV" fill="#c0c0c0"/>
<use href="#uCT" fill="#b3272b"/>
<use href="#uRI" fill="#b3272b"/>
<use href="#uMA" fill="#b3272b"/>
<use href="#uVT" fill="#b3272b"/>
<use href="#uNH" fill="#2f2585"/>
<use href="#uME" fill="#c0c0c0"/>
</g></g>
<rect x="189.4" y="344.0" width="156.5" height="119.2" fill="#fff" stroke="#d2d2d2" stroke-width="1"/>
<g class="m" transform="translate(189.90,344.50) scale(1.0019,0.9966)"><g clip-path="url(#cu)">
<use href="#uCAN" fill="#c0c0c0"/>
<use href="#uCANL" fill="none"/>
<use href="#uCANH" fill="none" class="fj"/>
<use href="#uWA" fill="#2f2585"/>
<use href="#uOR" fill="#c0c0c0"/>
<use href="#uCA" fill="#7ab32a"/>
<use href="#uNV" fill="#b3272b"/>
<use href="#uID" fill="#2f2585"/>
<use href="#uMT" fill="#c0c0c0"/>
<use href="#uWY" fill="#2f2585"/>
<use href="#uUT" fill="#c0c0c0"/>
<use href="#uCO" fill="#b3272b"/>
<use href="#uAZ" fill="#b3272b"/>
<use href="#uNM" fill="#ff8000"/>
<use href="#uND" fill="#2f2585"/>
<use href="#uSD" fill="#c0c0c0"/>
<use href="#uNE" fill="#c0c0c0"/>
<use href="#uKS" fill="#2f2585"/>
<use href="#uOK" fill="#b3272b"/>
<use href="#uTX" fill="#fdbd3a"/>
<use href="#uMN" fill="#2f2585"/>
<use href="#uIA" fill="#c0c0c0"/>
<use href="#uMO" fill="#c0c0c0"/>
<use href="#uAR" fill="#82c1e9"/>
<use href="#uLA" fill="#7ab32a"/>
<use href="#uMS" fill="#c0c0c0"/>
<use href="#uAL" fill="#2f2585"/>
<use href="#uGA" fill="#b3272b"/>
<use href="#uFL" fill="#2f2585"/>
<use href="#uSC" fill="#2f2585"/>
<use href="#uNC" fill="#6554cd"/>
<use href="#uTN" fill="#b3272b"/>
<use href="#uKY" fill="#c0c0c0"/>
<use href="#uIL" fill="#fdbd3a"/>
<use href="#uIN" fill="#c0c0c0"/>
<use href="#uOH" fill="#b3272b"/>
<use href="#uMI" fill="#2f2585"/>
<use href="#uWI" fill="#c0c0c0"/>
<use href="#uPA" fill="#1bb2aa"/>
<use href="#uNY" fill="#6554cd"/>
<use href="#uNJ" fill="#cd5557"/>
<use href="#uDE" fill="#ff8000"/>
<use href="#uMD" fill="#c0c0c0"/>
<use href="#uVA" fill="#c0c0c0"/>
<use href="#uWV" fill="#c0c0c0"/>
<use href="#uCT" fill="#2f2585"/>
<use href="#uRI" fill="#2f2585"/>
<use href="#uMA" fill="#2f2585"/>
<use href="#uVT" fill="#2f2585"/>
<use href="#uNH" fill="#2f2585"/>
<use href="#uME" fill="#c0c0c0"/>
</g></g>
<rect x="351.2" y="344.3" width="138.5" height="118.6" fill="#fff" stroke="#d2d2d2" stroke-width="1"/>
<g class="m d" transform="translate(351.70,344.80) scale(0.8860,0.9916)"><g clip-path="url(#cu)">
<use href="#uCAN" fill="#bfbfbf"/>
<use href="#uCANL" fill="none"/>
<use href="#uCANH" fill="none" class="fj"/>
<use href="#uWA" fill="#55ffaa"/>
<use href="#uOR" fill="#bfbfbf"/>
<use href="#uCA" fill="#0a6cf0"/>
<use href="#uNV" fill="#c8ff38"/>
<use href="#uID" fill="#000086"/>
<use href="#uMT" fill="#bfbfbf"/>
<use href="#uWY" fill="#000086"/>
<use href="#uUT" fill="#bfbfbf"/>
<use href="#uCO" fill="#7f0000"/>
<use href="#uAZ" fill="#55ffaa"/>
<use href="#uNM" fill="#1fe0ff"/>
<use href="#uND" fill="#55ffaa"/>
<use href="#uSD" fill="#bfbfbf"/>
<use href="#uNE" fill="#bfbfbf"/>
<use href="#uKS" fill="#000086"/>
<use href="#uOK" fill="#55ffaa"/>
<use href="#uTX" fill="#0000f0"/>
<use href="#uMN" fill="#55ffaa"/>
<use href="#uIA" fill="#bfbfbf"/>
<use href="#uMO" fill="#bfbfbf"/>
<use href="#uAR" fill="#000086"/>
<use href="#uLA" fill="#000086"/>
<use href="#uMS" fill="#bfbfbf"/>
<use href="#uAL" fill="#000086"/>
<use href="#uGA" fill="#bfbfbf"/>
<use href="#uFL" fill="#000086"/>
<use href="#uSC" fill="#000086"/>
<use href="#uNC" fill="#1fe0ff"/>
<use href="#uTN" fill="#55ffaa"/>
<use href="#uKY" fill="#bfbfbf"/>
<use href="#uIL" fill="#1fe0ff"/>
<use href="#uIN" fill="#bfbfbf"/>
<use href="#uOH" fill="#bfbfbf"/>
<use href="#uMI" fill="#bfbfbf"/>
<use href="#uWI" fill="#bfbfbf"/>
<use href="#uPA" fill="#55ffaa"/>
<use href="#uNY" fill="#000086"/>
<use href="#uNJ" fill="#55ffaa"/>
<use href="#uDE" fill="#bfbfbf"/>
<use href="#uMD" fill="#bfbfbf"/>
<use href="#uVA" fill="#bfbfbf"/>
<use href="#uWV" fill="#bfbfbf"/>
<use href="#uCT" fill="#000086"/>
<use href="#uRI" fill="#000086"/>
<use href="#uMA" fill="#000086"/>
<use href="#uVT" fill="#000086"/>
<use href="#uNH" fill="#000086"/>
<use href="#uME" fill="#bfbfbf"/>
</g></g>
<rect x="28.2" y="468.8" width="156.3" height="119.1" fill="#fff" stroke="#d2d2d2" stroke-width="1"/>
<g class="m" transform="translate(28.70,469.30) scale(1.0006,0.9958)"><g clip-path="url(#cu)">
<use href="#uCAN" fill="#c0c0c0"/>
<use href="#uCANL" fill="none"/>
<use href="#uCANH" fill="none" class="fj"/>
<use href="#uWA" fill="#2f2585"/>
<use href="#uOR" fill="#c0c0c0"/>
<use href="#uCA" fill="#7ab32a"/>
<use href="#uNV" fill="#b3272b"/>
<use href="#uID" fill="#c0c0c0"/>
<use href="#uMT" fill="#c0c0c0"/>
<use href="#uWY" fill="#c0c0c0"/>
<use href="#uUT" fill="#2f2585"/>
<use href="#uCO" fill="#b3272b"/>
<use href="#uAZ" fill="#fdbd3a"/>
<use href="#uNM" fill="#b3272b"/>
<use href="#uND" fill="#c0c0c0"/>
<use href="#uSD" fill="#c0c0c0"/>
<use href="#uNE" fill="#c0c0c0"/>
<use href="#uKS" fill="#b3272b"/>
<use href="#uOK" fill="#b3272b"/>
<use href="#uTX" fill="#cd5557"/>
<use href="#uMN" fill="#c0c0c0"/>
<use href="#uIA" fill="#c0c0c0"/>
<use href="#uMO" fill="#c0c0c0"/>
<use href="#uAR" fill="#b3272b"/>
<use href="#uLA" fill="#1bb2aa"/>
<use href="#uMS" fill="#c0c0c0"/>
<use href="#uAL" fill="#c0c0c0"/>
<use href="#uGA" fill="#c0c0c0"/>
<use href="#uFL" fill="#ff8000"/>
<use href="#uSC" fill="#c0c0c0"/>
<use href="#uNC" fill="#2f2585"/>
<use href="#uTN" fill="#c0c0c0"/>
<use href="#uKY" fill="#c0c0c0"/>
<use href="#uIL" fill="#0766dc"/>
<use href="#uIN" fill="#c0c0c0"/>
<use href="#uOH" fill="#2f2585"/>
<use href="#uMI" fill="#2f2585"/>
<use href="#uWI" fill="#2f2585"/>
<use href="#uPA" fill="#0766dc"/>
<use href="#uNY" fill="#cd5557"/>
<use href="#uNJ" fill="#b3272b"/>
<use href="#uDE" fill="#b3272b"/>
<use href="#uMD" fill="#b3272b"/>
<use href="#uVA" fill="#c0c0c0"/>
<use href="#uWV" fill="#c0c0c0"/>
<use href="#uCT" fill="#c0c0c0"/>
<use href="#uRI" fill="#2f2585"/>
<use href="#uMA" fill="#82c1e9"/>
<use href="#uVT" fill="#c0c0c0"/>
<use href="#uNH" fill="#c0c0c0"/>
<use href="#uME" fill="#c0c0c0"/>
</g></g>
<rect x="189.7" y="468.2" width="156.8" height="118.8" fill="#fff" stroke="#d2d2d2" stroke-width="1"/>
<g class="m" transform="translate(190.20,468.70) scale(1.0039,0.9933)"><g clip-path="url(#cu)">
<use href="#uCAN" fill="#c0c0c0"/>
<use href="#uCANL" fill="none"/>
<use href="#uCANH" fill="none" class="fj"/>
<use href="#uWA" fill="#2f2585"/>
<use href="#uOR" fill="#c0c0c0"/>
<use href="#uCA" fill="#82c1e9"/>
<use href="#uNV" fill="#b3272b"/>
<use href="#uID" fill="#c0c0c0"/>
<use href="#uMT" fill="#c0c0c0"/>
<use href="#uWY" fill="#c0c0c0"/>
<use href="#uUT" fill="#ff8000"/>
<use href="#uCO" fill="#b3272b"/>
<use href="#uAZ" fill="#cd5557"/>
<use href="#uNM" fill="#b3272b"/>
<use href="#uND" fill="#c0c0c0"/>
<use href="#uSD" fill="#c0c0c0"/>
<use href="#uNE" fill="#c0c0c0"/>
<use href="#uKS" fill="#b3272b"/>
<use href="#uOK" fill="#b3272b"/>
<use href="#uTX" fill="#7ab32a"/>
<use href="#uMN" fill="#c0c0c0"/>
<use href="#uIA" fill="#c0c0c0"/>
<use href="#uMO" fill="#c0c0c0"/>
<use href="#uAR" fill="#b3272b"/>
<use href="#uLA" fill="#82c1e9"/>
<use href="#uMS" fill="#c0c0c0"/>
<use href="#uAL" fill="#c0c0c0"/>
<use href="#uGA" fill="#c0c0c0"/>
<use href="#uFL" fill="#2f2585"/>
<use href="#uSC" fill="#c0c0c0"/>
<use href="#uNC" fill="#b3272b"/>
<use href="#uTN" fill="#c0c0c0"/>
<use href="#uKY" fill="#c0c0c0"/>
<use href="#uIL" fill="#6554cd"/>
<use href="#uIN" fill="#c0c0c0"/>
<use href="#uOH" fill="#b3272b"/>
<use href="#uMI" fill="#1bb2aa"/>
<use href="#uWI" fill="#2f2585"/>
<use href="#uPA" fill="#fdbd3a"/>
<use href="#uNY" fill="#1bb2aa"/>
<use href="#uNJ" fill="#b3272b"/>
<use href="#uDE" fill="#b3272b"/>
<use href="#uMD" fill="#b3272b"/>
<use href="#uVA" fill="#c0c0c0"/>
<use href="#uWV" fill="#c0c0c0"/>
<use href="#uCT" fill="#c0c0c0"/>
<use href="#uRI" fill="#2f2585"/>
<use href="#uMA" fill="#2f2585"/>
<use href="#uVT" fill="#c0c0c0"/>
<use href="#uNH" fill="#c0c0c0"/>
<use href="#uME" fill="#c0c0c0"/>
</g></g>
<rect x="351.4" y="468.4" width="139.0" height="118.4" fill="#fff" stroke="#d2d2d2" stroke-width="1"/>
<g class="m d" transform="translate(351.90,468.90) scale(0.8892,0.9899)"><g clip-path="url(#cu)">
<use href="#uCAN" fill="#bfbfbf"/>
<use href="#uCANL" fill="none"/>
<use href="#uCANH" fill="none" class="fj"/>
<use href="#uWA" fill="#bfbfbf"/>
<use href="#uOR" fill="#bfbfbf"/>
<use href="#uCA" fill="#0a6cf0"/>
<use href="#uNV" fill="#55ffaa"/>
<use href="#uID" fill="#bfbfbf"/>
<use href="#uMT" fill="#bfbfbf"/>
<use href="#uWY" fill="#bfbfbf"/>
<use href="#uUT" fill="#bfbfbf"/>
<use href="#uCO" fill="#55ffaa"/>
<use href="#uAZ" fill="#55ffaa"/>
<use href="#uNM" fill="#55ffaa"/>
<use href="#uND" fill="#bfbfbf"/>
<use href="#uSD" fill="#bfbfbf"/>
<use href="#uNE" fill="#bfbfbf"/>
<use href="#uKS" fill="#55ffaa"/>
<use href="#uOK" fill="#55ffaa"/>
<use href="#uTX" fill="#0a6cf0"/>
<use href="#uMN" fill="#bfbfbf"/>
<use href="#uIA" fill="#bfbfbf"/>
<use href="#uMO" fill="#bfbfbf"/>
<use href="#uAR" fill="#55ffaa"/>
<use href="#uLA" fill="#1fe0ff"/>
<use href="#uMS" fill="#bfbfbf"/>
<use href="#uAL" fill="#bfbfbf"/>
<use href="#uGA" fill="#bfbfbf"/>
<use href="#uFL" fill="#000086"/>
<use href="#uSC" fill="#bfbfbf"/>
<use href="#uNC" fill="#bfbfbf"/>
<use href="#uTN" fill="#bfbfbf"/>
<use href="#uKY" fill="#bfbfbf"/>
<use href="#uIL" fill="#1fe0ff"/>
<use href="#uIN" fill="#bfbfbf"/>
<use href="#uOH" fill="#bfbfbf"/>
<use href="#uMI" fill="#bfbfbf"/>
<use href="#uWI" fill="#55ffaa"/>
<use href="#uPA" fill="#55ffaa"/>
<use href="#uNY" fill="#000086"/>
<use href="#uNJ" fill="#55ffaa"/>
<use href="#uDE" fill="#55ffaa"/>
<use href="#uMD" fill="#55ffaa"/>
<use href="#uVA" fill="#bfbfbf"/>
<use href="#uWV" fill="#bfbfbf"/>
<use href="#uCT" fill="#bfbfbf"/>
<use href="#uRI" fill="#bfbfbf"/>
<use href="#uMA" fill="#0000f0"/>
<use href="#uVT" fill="#bfbfbf"/>
<use href="#uNH" fill="#bfbfbf"/>
<use href="#uME" fill="#bfbfbf"/>
</g></g>
<rect x="38.10" y="290.00" width="14.07" height="5.70" fill="#2f2585"/><rect x="52.12" y="290.00" width="14.07" height="5.70" fill="#6554cd"/><rect x="66.14" y="290.00" width="14.07" height="5.70" fill="#0766dc"/><rect x="80.16" y="290.00" width="14.07" height="5.70" fill="#82c1e9"/><rect x="94.18" y="290.00" width="14.07" height="5.70" fill="#1bb2aa"/><rect x="108.20" y="290.00" width="14.07" height="5.70" fill="#7ab32a"/><rect x="122.22" y="290.00" width="14.07" height="5.70" fill="#fdbd3a"/><rect x="136.24" y="290.00" width="14.07" height="5.70" fill="#ff8000"/><rect x="150.26" y="290.00" width="14.07" height="5.70" fill="#cd5557"/><rect x="164.28" y="290.00" width="14.07" height="5.70" fill="#b3272b"/><rect x="37.90" y="295.70" width=".4" height="1.4" fill="#555"/><text x="38.40" y="305.90" font-size="4.7" text-anchor="middle" fill="#444">0</text><rect x="65.94" y="295.70" width=".4" height="1.4" fill="#555"/><text x="66.44" y="305.90" font-size="4.7" text-anchor="middle" fill="#444">20</text><rect x="93.98" y="295.70" width=".4" height="1.4" fill="#555"/><text x="94.48" y="305.90" font-size="4.7" text-anchor="middle" fill="#444">40</text><rect x="122.02" y="295.70" width=".4" height="1.4" fill="#555"/><text x="122.52" y="305.90" font-size="4.7" text-anchor="middle" fill="#444">60</text><rect x="150.06" y="295.70" width=".4" height="1.4" fill="#555"/><text x="150.56" y="305.90" font-size="4.7" text-anchor="middle" fill="#444">80</text><rect x="178.10" y="295.70" width=".4" height="1.4" fill="#555"/><text x="178.60" y="305.90" font-size="4.7" text-anchor="middle" fill="#444">100</text>
<rect x="199.00" y="290.00" width="14.08" height="5.70" fill="#2f2585"/><rect x="213.03" y="290.00" width="14.08" height="5.70" fill="#6554cd"/><rect x="227.06" y="290.00" width="14.08" height="5.70" fill="#0766dc"/><rect x="241.09" y="290.00" width="14.08" height="5.70" fill="#82c1e9"/><rect x="255.12" y="290.00" width="14.08" height="5.70" fill="#1bb2aa"/><rect x="269.15" y="290.00" width="14.08" height="5.70" fill="#7ab32a"/><rect x="283.18" y="290.00" width="14.08" height="5.70" fill="#fdbd3a"/><rect x="297.21" y="290.00" width="14.08" height="5.70" fill="#ff8000"/><rect x="311.24" y="290.00" width="14.08" height="5.70" fill="#cd5557"/><rect x="325.27" y="290.00" width="14.08" height="5.70" fill="#b3272b"/><rect x="198.80" y="295.70" width=".4" height="1.4" fill="#555"/><text x="199.30" y="305.90" font-size="4.7" text-anchor="middle" fill="#444">0</text><rect x="226.86" y="295.70" width=".4" height="1.4" fill="#555"/><text x="227.36" y="305.90" font-size="4.7" text-anchor="middle" fill="#444">20</text><rect x="254.92" y="295.70" width=".4" height="1.4" fill="#555"/><text x="255.42" y="305.90" font-size="4.7" text-anchor="middle" fill="#444">40</text><rect x="282.98" y="295.70" width=".4" height="1.4" fill="#555"/><text x="283.48" y="305.90" font-size="4.7" text-anchor="middle" fill="#444">60</text><rect x="311.04" y="295.70" width=".4" height="1.4" fill="#555"/><text x="311.54" y="305.90" font-size="4.7" text-anchor="middle" fill="#444">80</text><rect x="339.10" y="295.70" width=".4" height="1.4" fill="#555"/><text x="339.60" y="305.90" font-size="4.7" text-anchor="middle" fill="#444">100</text>
<rect x="35.80" y="590.90" width="14.11" height="5.80" fill="#2f2585"/><rect x="49.86" y="590.90" width="14.11" height="5.80" fill="#6554cd"/><rect x="63.92" y="590.90" width="14.11" height="5.80" fill="#0766dc"/><rect x="77.98" y="590.90" width="14.11" height="5.80" fill="#82c1e9"/><rect x="92.04" y="590.90" width="14.11" height="5.80" fill="#1bb2aa"/><rect x="106.10" y="590.90" width="14.11" height="5.80" fill="#7ab32a"/><rect x="120.16" y="590.90" width="14.11" height="5.80" fill="#fdbd3a"/><rect x="134.22" y="590.90" width="14.11" height="5.80" fill="#ff8000"/><rect x="148.28" y="590.90" width="14.11" height="5.80" fill="#cd5557"/><rect x="162.34" y="590.90" width="14.11" height="5.80" fill="#b3272b"/><rect x="35.60" y="596.70" width=".4" height="1.4" fill="#555"/><text x="36.10" y="607.00" font-size="4.7" text-anchor="middle" fill="#444">0</text><rect x="63.72" y="596.70" width=".4" height="1.4" fill="#555"/><text x="64.22" y="607.00" font-size="4.7" text-anchor="middle" fill="#444">20</text><rect x="91.84" y="596.70" width=".4" height="1.4" fill="#555"/><text x="92.34" y="607.00" font-size="4.7" text-anchor="middle" fill="#444">40</text><rect x="119.96" y="596.70" width=".4" height="1.4" fill="#555"/><text x="120.46" y="607.00" font-size="4.7" text-anchor="middle" fill="#444">60</text><rect x="148.08" y="596.70" width=".4" height="1.4" fill="#555"/><text x="148.58" y="607.00" font-size="4.7" text-anchor="middle" fill="#444">80</text><rect x="176.20" y="596.70" width=".4" height="1.4" fill="#555"/><text x="176.70" y="607.00" font-size="4.7" text-anchor="middle" fill="#444">100</text>
<rect x="198.00" y="590.20" width="14.11" height="5.80" fill="#2f2585"/><rect x="212.06" y="590.20" width="14.11" height="5.80" fill="#6554cd"/><rect x="226.12" y="590.20" width="14.11" height="5.80" fill="#0766dc"/><rect x="240.18" y="590.20" width="14.11" height="5.80" fill="#82c1e9"/><rect x="254.24" y="590.20" width="14.11" height="5.80" fill="#1bb2aa"/><rect x="268.30" y="590.20" width="14.11" height="5.80" fill="#7ab32a"/><rect x="282.36" y="590.20" width="14.11" height="5.80" fill="#fdbd3a"/><rect x="296.42" y="590.20" width="14.11" height="5.80" fill="#ff8000"/><rect x="310.48" y="590.20" width="14.11" height="5.80" fill="#cd5557"/><rect x="324.54" y="590.20" width="14.11" height="5.80" fill="#b3272b"/><rect x="197.80" y="596.00" width=".4" height="1.4" fill="#555"/><text x="198.30" y="606.30" font-size="4.7" text-anchor="middle" fill="#444">0</text><rect x="225.92" y="596.00" width=".4" height="1.4" fill="#555"/><text x="226.42" y="606.30" font-size="4.7" text-anchor="middle" fill="#444">20</text><rect x="254.04" y="596.00" width=".4" height="1.4" fill="#555"/><text x="254.54" y="606.30" font-size="4.7" text-anchor="middle" fill="#444">40</text><rect x="282.16" y="596.00" width=".4" height="1.4" fill="#555"/><text x="282.66" y="606.30" font-size="4.7" text-anchor="middle" fill="#444">60</text><rect x="310.28" y="596.00" width=".4" height="1.4" fill="#555"/><text x="310.78" y="606.30" font-size="4.7" text-anchor="middle" fill="#444">80</text><rect x="338.40" y="596.00" width=".4" height="1.4" fill="#555"/><text x="338.90" y="606.30" font-size="4.7" text-anchor="middle" fill="#444">100</text>
<path d="M500.70,55.60 L504.00,64.85 L497.40,64.85 Z" fill="#7f0000"/><rect x="497.40" y="64.80" width="6.60" height="9.82" fill="#e80000"/><rect x="497.40" y="74.57" width="6.60" height="9.82" fill="#ff6a00"/><rect x="497.40" y="84.34" width="6.60" height="9.82" fill="#ffc400"/><rect x="497.40" y="94.11" width="6.60" height="9.82" fill="#c8ff38"/><rect x="497.40" y="103.88" width="6.60" height="9.82" fill="#55ffaa"/><rect x="497.40" y="113.65" width="6.60" height="9.82" fill="#1fe0ff"/><rect x="497.40" y="123.42" width="6.60" height="9.82" fill="#0a6cf0"/><rect x="497.40" y="133.19" width="6.60" height="9.82" fill="#0000f0"/><rect x="497.40" y="64.65" width="6.60" height=".3" fill="#000" opacity=".35"/><rect x="497.40" y="74.42" width="6.60" height=".3" fill="#000" opacity=".35"/><rect x="497.40" y="84.19" width="6.60" height=".3" fill="#000" opacity=".35"/><rect x="497.40" y="93.96" width="6.60" height=".3" fill="#000" opacity=".35"/><rect x="497.40" y="103.73" width="6.60" height=".3" fill="#000" opacity=".35"/><rect x="497.40" y="113.50" width="6.60" height=".3" fill="#000" opacity=".35"/><rect x="497.40" y="123.27" width="6.60" height=".3" fill="#000" opacity=".35"/><rect x="497.40" y="133.04" width="6.60" height=".3" fill="#000" opacity=".35"/><rect x="497.40" y="142.81" width="6.60" height=".3" fill="#000" opacity=".35"/><path d="M497.40,142.96 L504.00,142.96 L500.70,152.16 Z" fill="#000086"/><text class="b" x="506.40" y="66.70" font-size="4.9" fill="#222">40</text><text class="b" x="506.40" y="76.47" font-size="4.9" fill="#222">30</text><text class="b" x="506.40" y="86.24" font-size="4.9" fill="#222">20</text><text class="b" x="506.40" y="96.01" font-size="4.9" fill="#222">10</text><text class="b" x="506.40" y="105.78" font-size="4.9" fill="#222">0</text><text class="b" x="506.40" y="115.55" font-size="4.9" fill="#222">-10</text><text class="b" x="506.40" y="125.32" font-size="4.9" fill="#222">-20</text><text class="b" x="506.40" y="135.09" font-size="4.9" fill="#222">-30</text><text class="b" x="506.40" y="144.86" font-size="4.9" fill="#222">-40</text><text class="b" x="493.80" y="52.30" font-size="5.2" fill="#333">(%)</text>
<path d="M501.15,179.90 L504.40,189.15 L497.90,189.15 Z" fill="#7f0000"/><rect x="497.90" y="189.10" width="6.50" height="9.82" fill="#e80000"/><rect x="497.90" y="198.87" width="6.50" height="9.82" fill="#ff6a00"/><rect x="497.90" y="208.64" width="6.50" height="9.82" fill="#ffc400"/><rect x="497.90" y="218.41" width="6.50" height="9.82" fill="#c8ff38"/><rect x="497.90" y="228.18" width="6.50" height="9.82" fill="#55ffaa"/><rect x="497.90" y="237.95" width="6.50" height="9.82" fill="#1fe0ff"/><rect x="497.90" y="247.72" width="6.50" height="9.82" fill="#0a6cf0"/><rect x="497.90" y="257.49" width="6.50" height="9.82" fill="#0000f0"/><rect x="497.90" y="188.95" width="6.50" height=".3" fill="#000" opacity=".35"/><rect x="497.90" y="198.72" width="6.50" height=".3" fill="#000" opacity=".35"/><rect x="497.90" y="208.49" width="6.50" height=".3" fill="#000" opacity=".35"/><rect x="497.90" y="218.26" width="6.50" height=".3" fill="#000" opacity=".35"/><rect x="497.90" y="228.03" width="6.50" height=".3" fill="#000" opacity=".35"/><rect x="497.90" y="237.80" width="6.50" height=".3" fill="#000" opacity=".35"/><rect x="497.90" y="247.57" width="6.50" height=".3" fill="#000" opacity=".35"/><rect x="497.90" y="257.34" width="6.50" height=".3" fill="#000" opacity=".35"/><rect x="497.90" y="267.11" width="6.50" height=".3" fill="#000" opacity=".35"/><path d="M497.90,267.26 L504.40,267.26 L501.15,276.46 Z" fill="#000086"/><text class="b" x="506.80" y="191.00" font-size="4.9" fill="#222">40</text><text class="b" x="506.80" y="200.77" font-size="4.9" fill="#222">30</text><text class="b" x="506.80" y="210.54" font-size="4.9" fill="#222">20</text><text class="b" x="506.80" y="220.31" font-size="4.9" fill="#222">10</text><text class="b" x="506.80" y="230.08" font-size="4.9" fill="#222">0</text><text class="b" x="506.80" y="239.85" font-size="4.9" fill="#222">-10</text><text class="b" x="506.80" y="249.62" font-size="4.9" fill="#222">-20</text><text class="b" x="506.80" y="259.39" font-size="4.9" fill="#222">-30</text><text class="b" x="506.80" y="269.16" font-size="4.9" fill="#222">-40</text><text class="b" x="494.30" y="176.60" font-size="5.2" fill="#333">(%)</text>
<path d="M501.40,356.00 L504.80,365.25 L498.00,365.25 Z" fill="#7f0000"/><rect x="498.00" y="365.20" width="6.80" height="9.82" fill="#e80000"/><rect x="498.00" y="374.97" width="6.80" height="9.82" fill="#ff6a00"/><rect x="498.00" y="384.74" width="6.80" height="9.82" fill="#ffc400"/><rect x="498.00" y="394.51" width="6.80" height="9.82" fill="#c8ff38"/><rect x="498.00" y="404.28" width="6.80" height="9.82" fill="#55ffaa"/><rect x="498.00" y="414.05" width="6.80" height="9.82" fill="#1fe0ff"/><rect x="498.00" y="423.82" width="6.80" height="9.82" fill="#0a6cf0"/><rect x="498.00" y="433.59" width="6.80" height="9.82" fill="#0000f0"/><rect x="498.00" y="365.05" width="6.80" height=".3" fill="#000" opacity=".35"/><rect x="498.00" y="374.82" width="6.80" height=".3" fill="#000" opacity=".35"/><rect x="498.00" y="384.59" width="6.80" height=".3" fill="#000" opacity=".35"/><rect x="498.00" y="394.36" width="6.80" height=".3" fill="#000" opacity=".35"/><rect x="498.00" y="404.13" width="6.80" height=".3" fill="#000" opacity=".35"/><rect x="498.00" y="413.90" width="6.80" height=".3" fill="#000" opacity=".35"/><rect x="498.00" y="423.67" width="6.80" height=".3" fill="#000" opacity=".35"/><rect x="498.00" y="433.44" width="6.80" height=".3" fill="#000" opacity=".35"/><rect x="498.00" y="443.21" width="6.80" height=".3" fill="#000" opacity=".35"/><path d="M498.00,443.36 L504.80,443.36 L501.40,452.56 Z" fill="#000086"/><text class="b" x="507.20" y="367.10" font-size="4.9" fill="#222">40</text><text class="b" x="507.20" y="376.87" font-size="4.9" fill="#222">30</text><text class="b" x="507.20" y="386.64" font-size="4.9" fill="#222">20</text><text class="b" x="507.20" y="396.41" font-size="4.9" fill="#222">10</text><text class="b" x="507.20" y="406.18" font-size="4.9" fill="#222">0</text><text class="b" x="507.20" y="415.95" font-size="4.9" fill="#222">-10</text><text class="b" x="507.20" y="425.72" font-size="4.9" fill="#222">-20</text><text class="b" x="507.20" y="435.49" font-size="4.9" fill="#222">-30</text><text class="b" x="507.20" y="445.26" font-size="4.9" fill="#222">-40</text><text class="b" x="494.40" y="352.70" font-size="5.2" fill="#333">(%)</text>
<path d="M501.50,480.40 L504.90,489.65 L498.10,489.65 Z" fill="#7f0000"/><rect x="498.10" y="489.60" width="6.80" height="9.82" fill="#e80000"/><rect x="498.10" y="499.37" width="6.80" height="9.82" fill="#ff6a00"/><rect x="498.10" y="509.14" width="6.80" height="9.82" fill="#ffc400"/><rect x="498.10" y="518.91" width="6.80" height="9.82" fill="#c8ff38"/><rect x="498.10" y="528.68" width="6.80" height="9.82" fill="#55ffaa"/><rect x="498.10" y="538.45" width="6.80" height="9.82" fill="#1fe0ff"/><rect x="498.10" y="548.22" width="6.80" height="9.82" fill="#0a6cf0"/><rect x="498.10" y="557.99" width="6.80" height="9.82" fill="#0000f0"/><rect x="498.10" y="489.45" width="6.80" height=".3" fill="#000" opacity=".35"/><rect x="498.10" y="499.22" width="6.80" height=".3" fill="#000" opacity=".35"/><rect x="498.10" y="508.99" width="6.80" height=".3" fill="#000" opacity=".35"/><rect x="498.10" y="518.76" width="6.80" height=".3" fill="#000" opacity=".35"/><rect x="498.10" y="528.53" width="6.80" height=".3" fill="#000" opacity=".35"/><rect x="498.10" y="538.30" width="6.80" height=".3" fill="#000" opacity=".35"/><rect x="498.10" y="548.07" width="6.80" height=".3" fill="#000" opacity=".35"/><rect x="498.10" y="557.84" width="6.80" height=".3" fill="#000" opacity=".35"/><rect x="498.10" y="567.61" width="6.80" height=".3" fill="#000" opacity=".35"/><path d="M498.10,567.76 L504.90,567.76 L501.50,576.96 Z" fill="#000086"/><text class="b" x="507.30" y="491.50" font-size="4.9" fill="#222">40</text><text class="b" x="507.30" y="501.27" font-size="4.9" fill="#222">30</text><text class="b" x="507.30" y="511.04" font-size="4.9" fill="#222">20</text><text class="b" x="507.30" y="520.81" font-size="4.9" fill="#222">10</text><text class="b" x="507.30" y="530.58" font-size="4.9" fill="#222">0</text><text class="b" x="507.30" y="540.35" font-size="4.9" fill="#222">-10</text><text class="b" x="507.30" y="550.12" font-size="4.9" fill="#222">-20</text><text class="b" x="507.30" y="559.89" font-size="4.9" fill="#222">-30</text><text class="b" x="507.30" y="569.66" font-size="4.9" fill="#222">-40</text><text class="b" x="494.50" y="477.10" font-size="5.2" fill="#333">(%)</text>
<rect x="33" y="47.2" width="55.5" height="11.3" fill="#fff"/><rect x="35" y="171.8" width="34" height="11.6" fill="#fff"/>
<g style="filter:grayscale(1)">
<text x="8.9" y="20.2" font-size="13.4" textLength="191.8">a) European country averages</text>
<text x="8.9" y="321.8" font-size="13.4" textLength="130.4">b) US state averages</text>
<text class="b" x="26.6" y="40.7" font-size="11.0">2000 (reconstructed with trend)</text>
<text class="b" x="219.2" y="40.7" font-size="11.0">2010 -2014 average</text>
<text class="b" x="352.0" y="40.7" font-size="11.1">Difference (2010-2014) - 2000</text>
<text class="b" x="25.2" y="337.0" font-size="11.0">2000 (reconstructed with trend)</text>
<text class="b" x="218.5" y="337.0" font-size="11.0">2010 -2014 average</text>
<text class="b" x="351.0" y="337.0" font-size="11.2">Difference (2010-2014) - 2000</text>
<text class="b" x="34.6" y="56.1" font-size="10.2">Non-urban</text>
<text class="b" x="36.8" y="181.3" font-size="10.4">Urban</text>
<text class="b" x="35.0" y="449.8" font-size="10.2">Non-urban</text>
<text class="b" x="37.7" y="577.1" font-size="10.4">Urban</text>
</g>
</svg></body></html>
